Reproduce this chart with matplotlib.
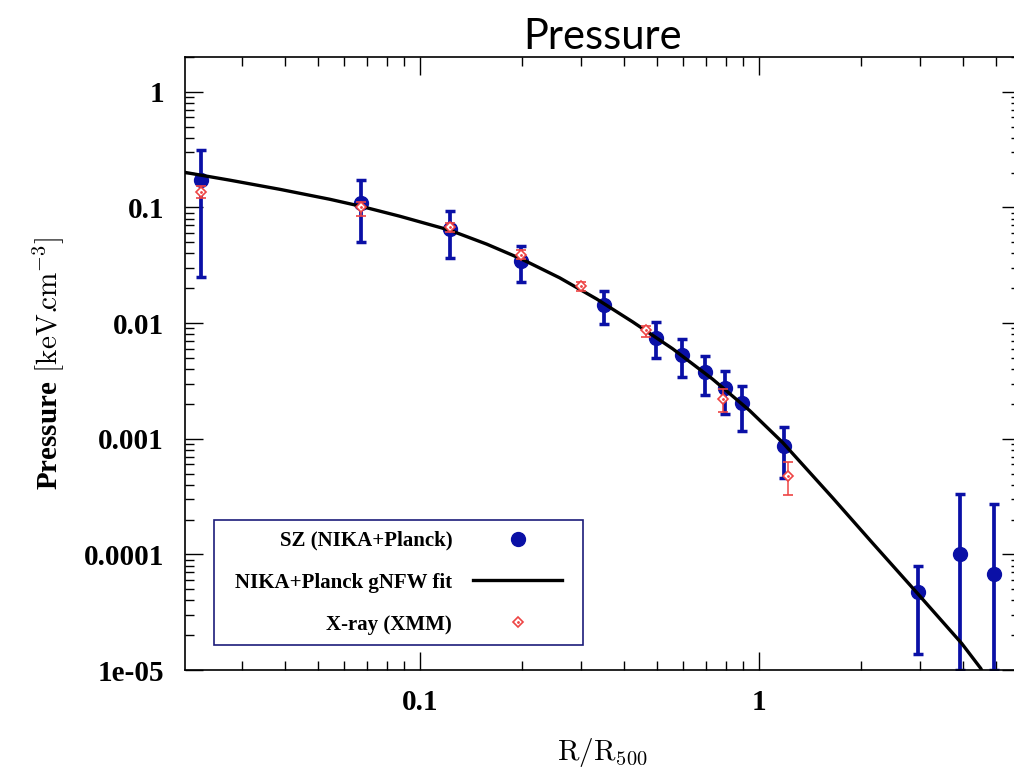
import matplotlib
matplotlib.use('Agg')
import matplotlib.pyplot as plt
from matplotlib.patches import Rectangle
from matplotlib.ticker import LogLocator, NullFormatter

plt.rcParams['mathtext.fontset'] = 'custom'
plt.rcParams['mathtext.rm'] = 'cmr10'
plt.rcParams['mathtext.bf'] = 'Liberation Serif:bold'
plt.rcParams['axes.unicode_minus'] = True

# %% Values

# SZ (NIKA+Planck) profile with error bar ends
sz_r = [0.0226, 0.067, 0.1226, 0.1995, 0.349, 0.497, 0.596, 0.695, 0.795, 0.893, 1.185, 2.95, 3.93, 4.94]
sz_p = [0.173, 0.109, 0.0651, 0.0342, 0.0142, 0.00748, 0.00534, 0.00378, 0.00277, 0.00202,
        8.7e-4, 4.74e-5, 1.0e-4, 6.75e-5]
sz_hi = [0.314, 0.171, 0.0924, 0.0467, 0.0189, 0.0102, 0.00724, 0.0052, 0.00383, 0.00285,
         0.00127, 8.0e-5, 3.34e-4, 2.7e-4]
sz_lo = [0.0252, 0.050, 0.0363, 0.0227, 0.0098, 0.0050, 0.00342, 0.00238, 0.00163, 0.00117,
         4.56e-4, 1.38e-5, 1.0e-5, 1.0e-5]

# X-ray (XMM) profile
xr_r = [0.0226, 0.067, 0.1226, 0.1995, 0.299, 0.464, 0.785, 1.22]
xr_p = [0.135, 0.100, 0.0680, 0.0391, 0.0208, 0.0087, 0.0022, 4.72e-4]
xr_hi = [0.152, 0.112, 0.0740, 0.0426, 0.0227, 0.0095, 0.00268, 6.27e-4]
xr_lo = [0.1205, 0.0848, 0.0615, 0.0355, 0.0189, 0.00763, 0.00169, 3.23e-4]

# gNFW fit curve
fit_r = [0.02026, 0.02751, 0.03864, 0.05427, 0.06699, 0.08729, 0.1226, 0.1576, 0.1999,
         0.2588, 0.3326, 0.4249, 0.5576, 0.7316, 0.9408, 1.177, 1.653, 2.169, 2.944,
         3.970, 4.518, 4.70]
fit_p = [0.2011, 0.1722, 0.1435, 0.1177, 0.1024, 0.0840, 0.06359, 0.04818, 0.03575,
         0.02462, 0.01616, 0.01024, 0.005992, 0.003271, 0.001750, 9.27e-4, 3.08e-4,
         1.249e-4, 4.58e-5, 1.70e-5, 1.034e-5, 8.3e-6]

xtick_vals = [0.1, 1]
xtick_labels = ['0.1', '1']
ytick_vals = [1, 0.1, 0.01, 0.001, 0.0001, 1e-05]
ytick_labels = ['1', '0.1', '0.01', '0.001', '0.0001', '1e-05']
legend_labels = ['SZ (NIKA+Planck)', 'NIKA+Planck gNFW fit', 'X-ray (XMM)']

blue = '#0a10a6'
red = '#ee4444'
navy = '#1c1c7a'
tick_font = dict(family='Liberation Serif', weight='bold', size=21)

# %% Plot

fig = plt.figure(figsize=(10.14, 7.68), dpi=100)
ax = fig.add_axes([0.1824, 0.1276, 0.8235, 0.7982])

sz = ax.errorbar(sz_r, sz_p,
                 yerr=[[p - l for p, l in zip(sz_p, sz_lo)], [h - p for p, h in zip(sz_p, sz_hi)]],
                 fmt='o', color=blue, ms=10, elinewidth=2.7, capsize=3.3, capthick=2.5, zorder=2)
fit, = ax.plot(fit_r, fit_p, color='black', lw=2.4, zorder=3, solid_joinstyle='round')
xr = ax.errorbar(xr_r, xr_p,
                 yerr=[[p - l for p, l in zip(xr_p, xr_lo)], [h - p for p, h in zip(xr_p, xr_hi)]],
                 fmt='D', ms=5, mfc='white', mec=red, mew=1.2, color=red,
                 elinewidth=1.1, capsize=3.8, capthick=1.1, zorder=4)
xr_dot, = ax.plot(xr_r, xr_p, '.', color=red, ms=2, zorder=5)

ax.set_xscale('log')
ax.set_yscale('log')
ax.set_xlim(0.0203, 5.9)
ax.set_ylim(1e-5, 2.0)
ax.set_xticks(xtick_vals, xtick_labels, **tick_font)
ax.set_yticks(ytick_vals, ytick_labels, **tick_font)
for axis in (ax.xaxis, ax.yaxis):
    axis.set_minor_locator(LogLocator(base=10, subs=range(2, 10), numticks=30))
    axis.set_minor_formatter(NullFormatter())

ax.tick_params(which='both', direction='in', top=True, right=True, width=1.0)
ax.tick_params(which='major', length=13)
ax.tick_params(which='minor', length=6.5)
ax.tick_params(axis='x', which='major', pad=14)
ax.tick_params(axis='y', which='major', pad=15)
for s in ax.spines.values():
    s.set_linewidth(1.2)
ax.spines['right'].set_visible(False)  # lies past the image edge

ax.set_title('Pressure', fontsize=30, family='Lato', pad=6)
ax.set_xlabel(r'$\mathrm{R/R_{500}}$', fontsize=21, labelpad=14)
ax.set_ylabel(r'$\mathbf{Pressure}\ [\mathrm{keV}.\!\!\mathrm{cm^{-3}}]$', fontsize=21, labelpad=12)

leg = ax.legend([sz[0], fit, (xr[0], xr_dot)], legend_labels,
                loc='lower left', bbox_to_anchor=(0.0475, 0.0408), borderaxespad=0,
                markerfirst=False, frameon=False, handlelength=4.28, handletextpad=1.0,
                labelspacing=1.05, borderpad=0.5,
                prop=dict(family='Liberation Serif', weight='bold', size=15))

# frame a bit wider than the legend content
fig.canvas.draw()
bb = leg.get_window_extent().transformed(fig.transFigure.inverted())
dx = 10.7 / fig.bbox.width
fig.add_artist(Rectangle((bb.x0 - dx, bb.y0), bb.width + 2 * dx, bb.height,
                         transform=fig.transFigure, fill=False, edgecolor=navy, lw=1.2))

plt.savefig('out.png', dpi=100)
